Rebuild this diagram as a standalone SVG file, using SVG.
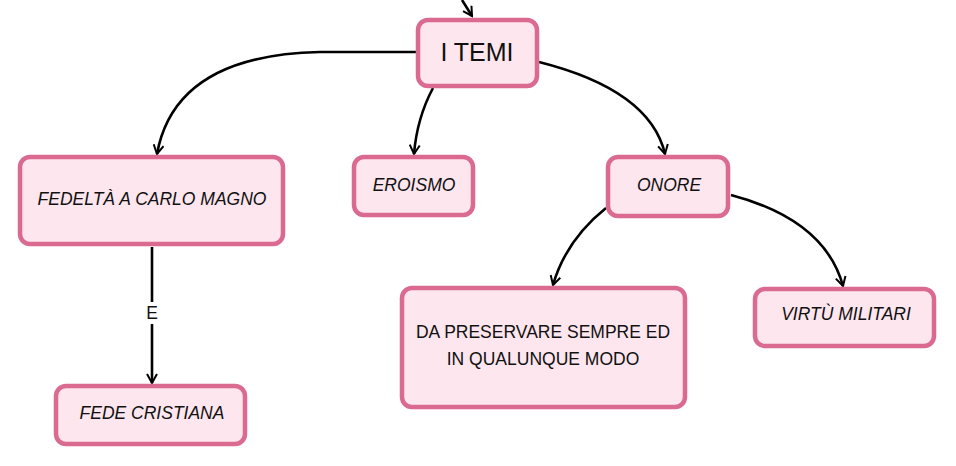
<svg xmlns="http://www.w3.org/2000/svg" width="956" height="466" viewBox="0 0 956 466">
<style>
.box{fill:#fde6ee;stroke:#db6a91;stroke-width:4.5}
.t{font-family:"Liberation Sans","DejaVu Sans",sans-serif;font-size:17.5px;fill:#111;text-anchor:middle;dominant-baseline:central}
.i{font-style:italic}
.c{fill:none;stroke:#000;stroke-width:2.6}
</style>
<defs>
<marker id="a" viewBox="0 0 12 12" refX="10" refY="6" markerWidth="12" markerHeight="12" markerUnits="userSpaceOnUse" orient="auto">
<path d="M1,1 L10,6 L1,11" fill="none" stroke="#000" stroke-width="2"/>
</marker>
</defs>
<rect width="956" height="466" fill="#fff"/>
<g id="connectors">
<path class="c" d="M462,0 L472,16" marker-end="url(#a)"/>
<path class="c" d="M417,52 L320,52 Q175,55 157,154" marker-end="url(#a)"/>
<path class="c" d="M433,88 Q417,118 414,154" marker-end="url(#a)"/>
<path class="c" d="M539,62 Q650,90 665,154" marker-end="url(#a)"/>
<path class="c" d="M152,247 L152,383" marker-end="url(#a)"/>
<path class="c" d="M606,208 Q566,240 553,285" marker-end="url(#a)"/>
<path class="c" d="M731,195 Q825,220 843,286" marker-end="url(#a)"/>
<rect x="143" y="302" width="18" height="22" fill="#fff"/>
<text class="t" x="152" y="313">E</text>
</g>
<g id="n-temi"><rect class="box" x="418" y="20" width="119" height="66" rx="10"/><text class="t" x="477" y="52" style="font-size:25px">I TEMI</text></g>
<g id="n-fedelta"><rect class="box" x="20" y="157" width="263" height="87" rx="10"/><text class="t i" x="152" y="199">FEDELTÀ A CARLO MAGNO</text></g>
<g id="n-eroismo"><rect class="box" x="354" y="157" width="119" height="58" rx="10"/><text class="t i" x="414" y="185">EROISMO</text></g>
<g id="n-onore"><rect class="box" x="608" y="157" width="120" height="59" rx="10"/><text class="t i" x="669" y="185">ONORE</text></g>
<g id="n-preservare"><rect class="box" x="402" y="288" width="283" height="119" rx="10"/><text class="t" x="543" y="332">DA PRESERVARE SEMPRE ED</text><text class="t" x="543" y="359">IN QUALUNQUE MODO</text></g>
<g id="n-virtu"><rect class="box" x="755" y="289" width="179" height="57" rx="10"/><text class="t i" x="846" y="314">VIRTÙ MILITARI</text></g>
<g id="n-fede"><rect class="box" x="56" y="386" width="189" height="58" rx="10"/><text class="t i" x="152" y="413">FEDE CRISTIANA</text></g>
</svg>
